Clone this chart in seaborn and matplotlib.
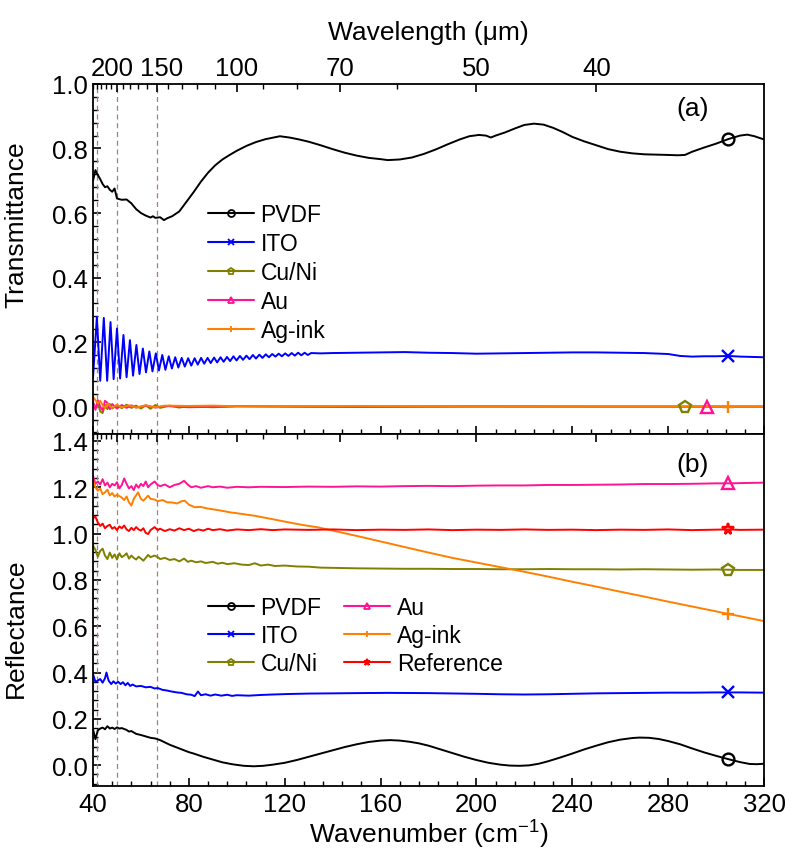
import numpy as np
import matplotlib
matplotlib.use("Agg")
import matplotlib.pyplot as plt
import matplotlib.transforms as mtransforms
from matplotlib.lines import Line2D
from matplotlib.ticker import AutoMinorLocator, FixedLocator
import seaborn as sns

# ---------------- data ----------------
# (a) Transmittance
pvdf_t_x = [40, 41, 42, 43, 44, 45, 46, 47, 48, 49, 50, 52, 54, 56, 58, 60, 62, 64, 65, 66, 68, 69.6, 71, 73,
            76, 78, 80, 82, 85, 88, 91, 94, 97, 100, 104, 108, 112, 116, 118, 122, 126, 130, 135, 140, 145, 150,
            155, 160, 163, 168, 173, 178, 183, 188, 193, 197, 201, 204, 206, 208, 212, 216, 220, 224, 228, 232,
            236, 240, 245, 250, 255, 260, 265, 270, 275, 280, 284, 287, 290, 295, 300, 305, 310, 313, 316, 320]
pvdf_t_y = [0.700, 0.733, 0.718, 0.705, 0.690, 0.680, 0.683, 0.672, 0.666, 0.676, 0.645, 0.641, 0.642, 0.630,
            0.612, 0.600, 0.592, 0.586, 0.590, 0.585, 0.587, 0.578, 0.584, 0.590, 0.605, 0.625, 0.645, 0.665,
            0.697, 0.725, 0.748, 0.766, 0.780, 0.793, 0.808, 0.820, 0.829, 0.835, 0.838, 0.834, 0.828, 0.821,
            0.810, 0.798, 0.787, 0.778, 0.771, 0.767, 0.764, 0.766, 0.772, 0.783, 0.797, 0.813, 0.828, 0.838,
            0.842, 0.840, 0.834, 0.840, 0.850, 0.862, 0.873, 0.877, 0.874, 0.864, 0.851, 0.836, 0.822, 0.810,
            0.798, 0.790, 0.785, 0.782, 0.781, 0.780, 0.779, 0.780, 0.790, 0.803, 0.815, 0.829, 0.840, 0.843,
            0.838, 0.828]

ito_t_x = [40.0, 41.6, 43.0, 44.5, 45.9, 47.3, 48.6, 50.0, 51.3, 52.7, 54.0, 55.4, 56.7, 58.1, 59.4, 60.8, 62.1,
           63.5, 64.8, 66.2, 67.5, 68.9, 70.2, 71.6, 72.9, 74.3, 75.6, 77.0, 78.3, 79.7, 81.0, 82.4, 83.7, 85.1,
           86.4, 87.8, 89.1, 90.5, 91.8, 93.2, 94.5, 95.9, 97.2, 98.6, 99.9, 101.3, 102.6, 104.0, 105.3, 106.7,
           108.0, 109.4, 110.7, 112.1, 113.4, 114.8, 116.1, 117.5, 118.8, 120.2, 121.5, 122.9, 124.2, 125.6,
           126.9, 128.3, 129.6, 131.0, 135, 140, 150, 160, 170, 180, 190, 200, 210, 220, 230, 240, 250, 260,
           270, 280, 285, 290, 295, 300, 305, 310, 315, 320]
ito_t_y = [0.090, 0.278, 0.080, 0.275, 0.080, 0.262, 0.085, 0.242, 0.087, 0.222, 0.091, 0.206, 0.096, 0.191,
           0.101, 0.180, 0.106, 0.171, 0.109, 0.165, 0.112, 0.160, 0.114, 0.156, 0.118, 0.153, 0.121, 0.151,
           0.124, 0.150, 0.127, 0.150, 0.130, 0.151, 0.133, 0.151, 0.135, 0.152, 0.137, 0.153, 0.139, 0.154,
           0.141, 0.156, 0.143, 0.157, 0.145, 0.158, 0.147, 0.160, 0.149, 0.161, 0.151, 0.162, 0.153, 0.163,
           0.155, 0.164, 0.156, 0.165, 0.157, 0.166, 0.158, 0.167, 0.159, 0.167, 0.160, 0.166, 0.165, 0.166,
           0.167, 0.168, 0.169, 0.167, 0.166, 0.164, 0.165, 0.166, 0.167, 0.168, 0.168, 0.167, 0.166, 0.163,
           0.157, 0.155, 0.156, 0.156, 0.157, 0.155, 0.154, 0.153]

cuni_t_x = [40, 41, 42, 43, 44, 45, 46, 47, 48, 50, 52, 54, 56, 58, 60, 62, 64, 66, 68, 72, 76, 80, 90, 100,
            130, 200, 260, 287, 320]
cuni_t_y = [0.010, -0.005, 0.012, -0.015, -0.020, 0.005, -0.008, 0.008, -0.006, 0.004, -0.005, 0.006, -0.004,
            0.003, -0.006, 0.004, -0.007, 0.005, -0.004, 0.003, -0.003, 0.002, -0.002, 0.001, 0.000, 0.001,
            0.000, 0.000, 0.000]

au_t_x = [40, 41, 42, 43, 44, 45, 46, 47, 48, 50, 52, 54, 56, 58, 62, 66, 70, 80, 100, 150, 200, 296, 320]
au_t_y = [0.015, -0.010, 0.020, 0.000, -0.012, 0.018, 0.012, -0.008, 0.008, -0.006, 0.005, -0.004, 0.004,
          -0.003, 0.003, -0.003, 0.002, -0.002, 0.001, -0.001, 0.000, 0.000, 0.000]

ag_t_x = [40, 41, 42, 43, 44, 45, 46, 48, 50, 52, 55, 58, 62, 66, 70, 80, 90, 100, 150, 200, 260, 305, 320]
ag_t_y = [0.030, 0.020, 0.010, 0.018, 0.005, -0.005, 0.010, -0.004, 0.006, -0.003, 0.004, -0.003, 0.004,
          -0.002, 0.003, 0.002, 0.003, 0.001, 0.002, 0.001, 0.000, 0.000, 0.000]

# (b) Reflectance
pvdf_r_x = [40, 41, 42, 43, 44, 45, 46, 47, 48, 49, 50, 51, 52, 54, 55, 56, 58, 60, 62, 64, 66, 68, 70, 72, 74,
            76, 78, 80, 82, 84, 86, 88, 90, 92, 94, 96, 98, 100, 103, 107, 111, 115, 120, 125, 130, 135, 140,
            145, 150, 155, 160, 164, 168, 172, 176, 180, 185, 190, 195, 200, 205, 210, 214, 218, 222, 226, 230,
            235, 240, 245, 250, 255, 260, 265, 268, 272, 276, 280, 285, 290, 295, 300, 305, 310, 314, 317, 320]
pvdf_r_y = [0.155, 0.112, 0.150, 0.158, 0.162, 0.155, 0.168, 0.158, 0.162, 0.156, 0.163, 0.158, 0.160, 0.152,
            0.145, 0.147, 0.135, 0.130, 0.124, 0.118, 0.115, 0.108, 0.098, 0.088, 0.080, 0.072, 0.064, 0.056,
            0.050, 0.043, 0.036, 0.030, 0.024, 0.018, 0.012, 0.008, 0.004, 0.001, -0.003, -0.005, -0.003,
            0.002, 0.010, 0.022, 0.036, 0.050, 0.064, 0.078, 0.090, 0.100, 0.106, 0.108, 0.106, 0.101, 0.094,
            0.084, 0.068, 0.052, 0.036, 0.022, 0.010, 0.002, -0.002, -0.003, -0.001, 0.006, 0.017, 0.033,
            0.050, 0.068, 0.084, 0.099, 0.110, 0.117, 0.119, 0.118, 0.113, 0.104, 0.090, 0.072, 0.055, 0.040,
            0.026, 0.013, 0.005, 0.004, 0.006]

ito_r_x = [40, 41, 42, 43, 44, 45, 45.6, 46.5, 47.6, 48.5, 49.5, 50.5, 51.5, 52.5, 53.5, 54.5, 55.5, 56.5, 58,
           60, 62, 64, 65.7, 67, 69, 71, 72.7, 75, 77, 79, 81, 82.4, 83.8, 85, 87, 89, 91, 93.5, 96, 98, 100,
           105, 110, 115, 121, 130, 140, 150, 163, 180, 200, 210, 220, 230, 240, 250, 260, 270, 280, 290, 300,
           305, 310, 320]
ito_r_y = [0.393, 0.360, 0.365, 0.372, 0.356, 0.375, 0.400, 0.365, 0.350, 0.362, 0.352, 0.360, 0.350, 0.358,
           0.345, 0.355, 0.342, 0.348, 0.340, 0.342, 0.336, 0.338, 0.331, 0.333, 0.325, 0.322, 0.318, 0.314,
           0.312, 0.306, 0.304, 0.298, 0.318, 0.302, 0.306, 0.300, 0.305, 0.300, 0.304, 0.299, 0.302, 0.300,
           0.303, 0.305, 0.307, 0.309, 0.310, 0.311, 0.312, 0.311, 0.308, 0.306, 0.305, 0.306, 0.308, 0.310,
           0.311, 0.312, 0.313, 0.313, 0.314, 0.314, 0.314, 0.313]

cuni_r_x = [40, 41, 42, 43, 44, 45, 46, 47, 48, 49, 50, 51, 52, 53, 54, 55, 56, 57, 58, 59, 60, 61, 62, 63, 64,
            65.7, 67, 68, 70, 72, 74, 76, 78, 79.6, 81, 83, 85, 87, 90, 92, 94, 96, 99, 102, 105, 107.5, 110,
            113, 116, 120, 125, 130, 135, 140, 150, 160, 170, 180, 190, 200, 210, 220, 230, 240, 250, 260, 270,
            280, 290, 300, 305, 310, 320]
cuni_r_y = [0.948, 0.930, 0.900, 0.925, 0.935, 0.905, 0.890, 0.918, 0.895, 0.910, 0.888, 0.915, 0.898, 0.905,
            0.915, 0.892, 0.905, 0.895, 0.888, 0.900, 0.892, 0.883, 0.895, 0.908, 0.898, 0.905, 0.898, 0.890,
            0.895, 0.886, 0.890, 0.880, 0.892, 0.878, 0.883, 0.876, 0.880, 0.873, 0.878, 0.870, 0.874, 0.868,
            0.872, 0.866, 0.864, 0.872, 0.862, 0.866, 0.860, 0.862, 0.858, 0.857, 0.853, 0.852, 0.850, 0.849,
            0.848, 0.848, 0.847, 0.847, 0.846, 0.846, 0.847, 0.846, 0.846, 0.845, 0.846, 0.845, 0.844, 0.845,
            0.844, 0.843, 0.843]

au_r_x = [40, 41, 42, 43, 44, 45, 46, 47, 48, 49, 50, 51, 52, 53, 54, 55, 56, 57, 58, 59, 60, 61, 62, 63, 64,
          65.7, 67, 68, 70, 72, 74, 76, 78, 79.5, 81, 83, 85, 88, 90, 93, 96, 100, 105, 110, 120, 130, 140, 150,
          160, 170, 180, 190, 200, 210, 220, 230, 240, 250, 260, 270, 280, 290, 300, 305, 310, 320]
au_r_y = [1.250, 1.215, 1.225, 1.212, 1.235, 1.208, 1.220, 1.200, 1.215, 1.208, 1.222, 1.195, 1.210, 1.238,
          1.215, 1.195, 1.205, 1.188, 1.212, 1.198, 1.215, 1.205, 1.225, 1.200, 1.212, 1.225, 1.210, 1.205,
          1.212, 1.200, 1.210, 1.215, 1.228, 1.212, 1.200, 1.205, 1.198, 1.205, 1.200, 1.203, 1.198, 1.202,
          1.200, 1.202, 1.201, 1.203, 1.202, 1.204, 1.203, 1.205, 1.206, 1.205, 1.207, 1.208, 1.208, 1.210,
          1.210, 1.211, 1.212, 1.214, 1.214, 1.215, 1.217, 1.217, 1.218, 1.220]

ag_r_x = [40, 41, 42, 43, 44, 45, 46, 47, 48, 49, 50, 51.8, 53, 54, 55, 56, 57, 58.8, 60, 61, 63, 64, 65.7, 67,
          69, 71, 72.7, 75, 77, 78.3, 80, 82.4, 85, 88, 90, 93.5, 97, 100, 104, 107.5, 111, 115, 121.4, 127,
          133.9, 140, 150, 160, 170, 180, 190, 200, 210, 220, 230, 240, 250, 260, 270, 280, 290, 300, 305, 310,
          320]
ag_r_y = [1.230, 1.200, 1.185, 1.195, 1.170, 1.178, 1.190, 1.165, 1.175, 1.160, 1.168, 1.157, 1.145, 1.160,
          1.135, 1.121, 1.150, 1.178, 1.150, 1.142, 1.164, 1.150, 1.147, 1.140, 1.145, 1.135, 1.135, 1.130,
          1.140, 1.142, 1.125, 1.114, 1.115, 1.108, 1.105, 1.099, 1.092, 1.088, 1.082, 1.077, 1.070, 1.062,
          1.049, 1.038, 1.027, 1.013, 0.990, 0.966, 0.942, 0.918, 0.895, 0.875, 0.855, 0.835, 0.814, 0.792,
          0.771, 0.749, 0.728, 0.706, 0.685, 0.664, 0.653, 0.643, 0.622]

ref_r_x = [40, 41, 42, 43, 44, 45, 46, 47, 48, 49, 50, 51, 52, 53, 54, 55, 56, 57, 58, 59, 60, 61, 62, 63, 64,
           65.7, 67, 68, 70, 72, 74, 76, 78, 80, 82, 84, 86, 88, 90, 93, 96, 100, 105, 110, 115, 120, 130, 140,
           150, 160, 170, 180, 190, 200, 210, 220, 230, 240, 250, 260, 270, 280, 290, 300, 305, 310, 320]
ref_r_y = [1.066, 1.073, 1.048, 1.033, 1.043, 1.023, 1.033, 1.038, 1.021, 1.028, 1.015, 1.031, 1.023, 1.035,
           1.018, 1.011, 1.025, 1.015, 1.028, 1.018, 1.013, 1.023, 1.003, 0.998, 1.015, 1.028, 1.015, 1.021,
           1.011, 1.019, 1.013, 1.023, 1.015, 1.021, 1.011, 1.018, 1.013, 1.021, 1.015, 1.019, 1.013, 1.018,
           1.015, 1.019, 1.015, 1.018, 1.016, 1.018, 1.015, 1.017, 1.016, 1.018, 1.015, 1.017, 1.016, 1.018,
           1.016, 1.017, 1.015, 1.017, 1.016, 1.018, 1.015, 1.017, 1.018, 1.016, 1.017]

series_names = ["PVDF", "ITO", "Cu/Ni", "Au", "Ag-ink", "Reference"]
colors = {"PVDF": "#000000", "ITO": "#0000FF", "Cu/Ni": "#808000", "Au": "#FF1493",
          "Ag-ink": "#FF8000", "Reference": "#FF0000"}
markers = {"PVDF": "o", "ITO": "x", "Cu/Ni": "p", "Au": "^", "Ag-ink": "+", "Reference": "*"}

trans = {"PVDF": (pvdf_t_x, pvdf_t_y, 305), "ITO": (ito_t_x, ito_t_y, 305),
         "Cu/Ni": (cuni_t_x, cuni_t_y, 287), "Au": (au_t_x, au_t_y, 296),
         "Ag-ink": (ag_t_x, ag_t_y, 305)}
refl = {"PVDF": (pvdf_r_x, pvdf_r_y, 305), "ITO": (ito_r_x, ito_r_y, 305),
        "Cu/Ni": (cuni_r_x, cuni_r_y, 305), "Au": (au_r_x, au_r_y, 305),
        "Ag-ink": (ag_r_x, ag_r_y, 305), "Reference": (ref_r_x, ref_r_y, 305)}

wl_major = [200, 150, 100, 70, 50, 40]
wl_minor = [250, 240, 230, 220, 210, 190, 180, 170, 160, 140, 130, 120, 110, 90, 80, 60]
dashed_wl = [240, 200, 150]

# ---------------- style ----------------
sns.set_theme(style="ticks")
plt.rcParams["font.family"] = ["Liberation Sans", "DejaVu Sans"]
plt.rcParams["mathtext.fontset"] = "custom"
plt.rcParams["mathtext.rm"] = "Liberation Sans"
plt.rcParams["mathtext.it"] = "Liberation Sans:italic"
plt.rcParams["axes.linewidth"] = 1.3
for key in ("text.color", "axes.labelcolor", "xtick.color", "ytick.color", "axes.edgecolor"):
    plt.rcParams[key] = "black"

TICK_FS = 18.5
LAB_FS = 19
LEG_FS = 16.5

fig = plt.figure(figsize=(7.85, 8.54), dpi=100)
L, W = 0.1185, 0.8548
ax1 = fig.add_axes([L, 0.4906, W, 0.4099])
ax2 = fig.add_axes([L, 0.0785, W, 0.4121])

XMIN, XMAX = 40, 320


def style_axis(ax, ylim, yticks):
    ax.set_xlim(XMIN, XMAX)
    ax.set_ylim(*ylim)
    ax.set_yticks(yticks)
    ax.set_xticks(np.arange(40, 321, 40))
    ax.xaxis.set_minor_locator(AutoMinorLocator(5))
    ax.yaxis.set_minor_locator(AutoMinorLocator(5))
    ax.tick_params(axis="both", which="major", direction="in", length=6, width=1.2,
                   labelsize=TICK_FS, top=False, right=False, colors="black", pad=4)
    ax.tick_params(axis="both", which="minor", direction="in", length=3.5, width=1.0,
                   top=False, right=False)
    for s in ax.spines.values():
        s.set_color("black")
        s.set_linewidth(1.3)


def wavelength_axis(ax, labels):
    t = ax.twiny()
    t.set_xlim(XMIN, XMAX)
    t.xaxis.set_major_locator(FixedLocator([1e4 / w for w in wl_major]))
    t.xaxis.set_minor_locator(FixedLocator([1e4 / w for w in wl_minor]))
    t.set_xticklabels([str(w) for w in wl_major] if labels else [])
    t.tick_params(axis="x", which="major", direction="in", length=6, width=1.2,
                  labelsize=TICK_FS, pad=3, colors="black")
    t.tick_params(axis="x", which="minor", direction="in", length=3.5, width=1.0)
    t.grid(False)
    for s in t.spines.values():
        s.set_visible(False)
    return t


# ---- panel (a)
style_axis(ax1, (-0.085, 1.0), np.arange(0, 1.01, 0.2))
ax1.set_yticklabels([f"{v:.1f}" for v in np.arange(0, 1.01, 0.2)])
ax1.tick_params(axis="x", labelbottom=False)
for name, (xs, ys, mx) in trans.items():
    sns.lineplot(x=xs, y=ys, ax=ax1, color=colors[name], lw=1.4, estimator=None, sort=False, legend=False)
    i = xs.index(mx)
    ax1.plot([xs[i]], [ys[i]], ls="none", marker=markers[name], ms=8.5,
             mfc="none", mec=colors[name], mew=1.7, zorder=5)
ax1.set_ylabel("Transmittance", fontsize=LAB_FS)
ax1.text(290, 0.925, "(a)", fontsize=LAB_FS, ha="center", va="center")
top = wavelength_axis(ax1, True)
top.set_xlabel("Wavelength (μm)", fontsize=LAB_FS, labelpad=12)
# nudge the two crowded labels apart, as in the original
labs = top.get_xticklabels()
for lab, dx in zip(labs[:2], (-5, 5)):
    lab.set_transform(lab.get_transform() + mtransforms.ScaledTranslation(dx / 100, 0, fig.dpi_scale_trans))

# ---- panel (b)
style_axis(ax2, (-0.09, 1.43), np.arange(0, 1.41, 0.2))
ax2.set_yticklabels([f"{v:.1f}" for v in np.arange(0, 1.41, 0.2)])
for name, (xs, ys, mx) in refl.items():
    sns.lineplot(x=xs, y=ys, ax=ax2, color=colors[name], lw=1.4, estimator=None, sort=False, legend=False)
    i = xs.index(mx)
    ax2.plot([xs[i]], [ys[i]], ls="none", marker=markers[name], ms=8.5,
             mfc="none", mec=colors[name], mew=1.7, zorder=5)
ax2.set_ylabel("Reflectance", fontsize=LAB_FS)
ax2.set_xlabel("Wavenumber (cm$^{-1}$)", fontsize=LAB_FS, labelpad=2)
ax2.text(290, 1.30, "(b)", fontsize=LAB_FS, ha="center", va="center")
wavelength_axis(ax2, False)

for ax in (ax1, ax2):
    for w in dashed_wl:
        ax.axvline(1e4 / w, color="#9a8478", ls=(0, (4, 3)), lw=0.9, zorder=1)
ax1.yaxis.set_label_coords(-0.097, 0.6)
ax2.yaxis.set_label_coords(-0.097, 0.45)


def handle(name):
    return Line2D([], [], color=colors[name], lw=1.5, marker=markers[name], ms=5,
                  mfc="none", mec=colors[name], mew=1.3)


leg1 = ax1.legend(handles=[handle(n) for n in series_names[:5]], labels=series_names[:5],
                  loc="upper left", bbox_to_anchor=(0.171, 0.66), frameon=False, fontsize=LEG_FS,
                  handlelength=2.0, handletextpad=0.3, labelspacing=0.26, borderpad=0, borderaxespad=0)
order = ["PVDF", "ITO", "Cu/Ni", "Au", "Ag-ink", "Reference"]
leg2 = ax2.legend(handles=[handle(n) for n in order], labels=order, ncol=2,
                  loc="upper left", bbox_to_anchor=(0.171, 0.54), frameon=False, fontsize=LEG_FS,
                  handlelength=2.0, handletextpad=0.3, labelspacing=0.23, columnspacing=1.0,
                  borderpad=0, borderaxespad=0)
for leg in (leg1, leg2):
    for t in leg.get_texts():
        t.set_color("black")

fig.savefig("out.png", dpi=100, facecolor="white")
